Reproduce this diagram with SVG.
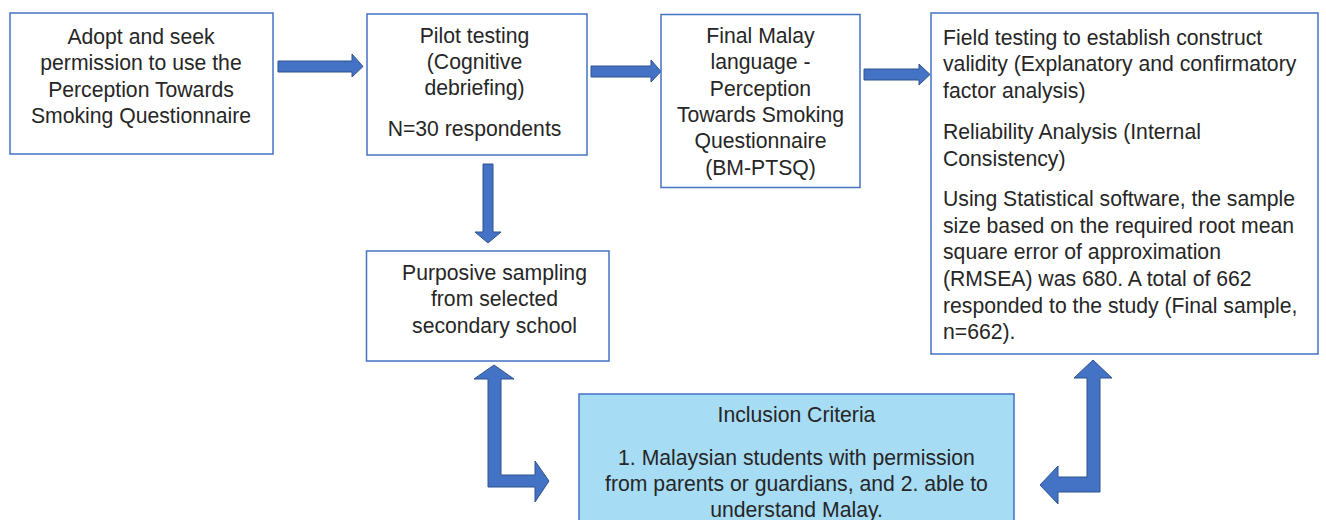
<svg xmlns="http://www.w3.org/2000/svg" width="1326" height="520" viewBox="0 0 1326 520">
<style>
.box{fill:#fff;stroke:#4472C4;stroke-width:1.5}
.inc{fill:#A7DCF5;stroke:#4472C4;stroke-width:1.5}
.arr{fill:#4472C4;stroke:#2F528F;stroke-width:1}
text{font-family:"Liberation Sans",Arial,sans-serif;font-size:21.2px;fill:#262626}
.c{text-anchor:middle}
</style>
<rect width="1326" height="520" fill="#fff"/>
<g id="connectors">
<polygon class="arr" points="278,61 352,61 352,54 363,66.5 352,77 352,72 278,72"/>
<polygon class="arr" points="591,66 651,66 651,60 661,71.5 651,82 651,77 591,77"/>
<polygon class="arr" points="864,69 919,69 919,64 930,74.5 919,85 919,80 864,80"/>
<polygon class="arr" points="483,164 493,164 493,232 501,232 488,243 475,232 483,232"/>
<polygon class="arr" points="494,365 514,379 501,379 501,475 535,475 535,461 549,481 535,502 535,487 488,487 488,379 474,379"/>
<polygon class="arr" points="1093,360 1112,378 1100,378 1100,492 1058,492 1058,504 1040,485 1058,466 1058,477 1087,477 1087,378 1074,378"/>
</g>
<g id="n1">
<rect class="box" x="10" y="13" width="263" height="141"/>
<text class="c" x="141" y="44">Adopt and seek</text>
<text class="c" x="141" y="70">permission to use the</text>
<text class="c" x="141" y="97">Perception Towards</text>
<text class="c" x="141" y="123">Smoking Questionnaire</text>
</g>
<g id="n2">
<rect class="box" x="367" y="14" width="220" height="141"/>
<text class="c" x="474.5" y="43">Pilot testing</text>
<text class="c" x="474.5" y="69">(Cognitive</text>
<text class="c" x="474.5" y="95">debriefing)</text>
<text class="c" x="474.5" y="136">N=30 respondents</text>
</g>
<g id="n3">
<rect class="box" x="661" y="14.5" width="199" height="173"/>
<text class="c" x="760.5" y="43">Final Malay</text>
<text class="c" x="760.5" y="69">language -</text>
<text class="c" x="760.5" y="96">Perception</text>
<text class="c" x="760.5" y="122">Towards Smoking</text>
<text class="c" x="760.5" y="148">Questionnaire</text>
<text class="c" x="760.5" y="175">(BM-PTSQ)</text>
</g>
<g id="n4">
<rect class="box" x="931" y="13" width="387" height="341"/>
<text x="943" y="44.5">Field testing to establish construct</text>
<text x="943" y="71">validity (Explanatory and confirmatory</text>
<text x="943" y="97.5">factor analysis)</text>
<text x="943" y="139">Reliability Analysis (Internal</text>
<text x="943" y="165.5">Consistency)</text>
<text x="943" y="206">Using Statistical software, the sample</text>
<text x="943" y="232.5">size based on the required root mean</text>
<text x="943" y="259">square error of approximation</text>
<text x="943" y="286">(RMSEA) was 680. A total of 662</text>
<text x="943" y="312.5">responded to the study (Final sample,</text>
<text x="943" y="339">n=662).</text>
</g>
<g id="n5">
<rect class="box" x="366.5" y="251" width="242.5" height="110"/>
<text class="c" x="494.5" y="280">Purposive sampling</text>
<text class="c" x="494.5" y="306">from selected</text>
<text class="c" x="494.5" y="333">secondary school</text>
</g>
<g id="n6">
<rect class="inc" x="579" y="394" width="435" height="140"/>
<text class="c" x="796.5" y="422">Inclusion Criteria</text>
<text class="c" x="796.5" y="465">1. Malaysian students with permission</text>
<text class="c" x="796.5" y="491">from parents or guardians, and 2. able to</text>
<text class="c" x="796.5" y="517">understand Malay.</text>
</g>
</svg>
